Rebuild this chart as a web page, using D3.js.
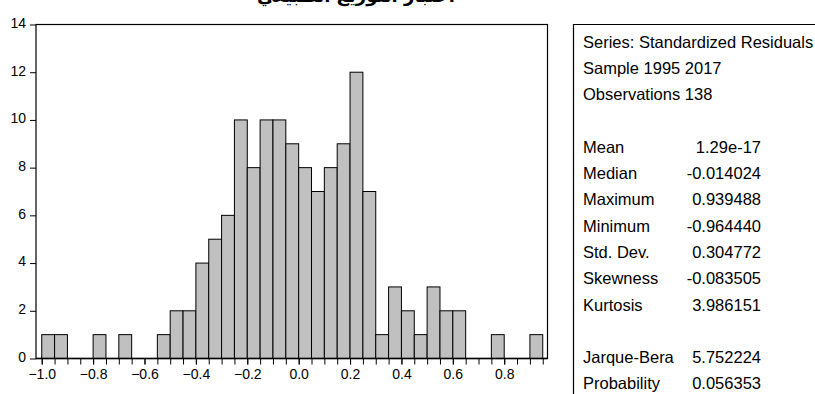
<!DOCTYPE html>
<html>
<head>
<meta charset="utf-8">
<script src="https://cdn.jsdelivr.net/npm/d3@7"></script>
<style>
  body { margin: 0; background: #fff; }
  svg { display: block; }
</style>
</head>
<body>
<div class="hist"></div>
<script>
// bins (lower edge, width 0.05) and their counts
const binStart = [-1.00, -0.95, -0.90, -0.85, -0.80, -0.75, -0.70, -0.65, -0.60, -0.55,
                  -0.50, -0.45, -0.40, -0.35, -0.30, -0.25, -0.20, -0.15, -0.10, -0.05,
                   0.00,  0.05,  0.10,  0.15,  0.20,  0.25,  0.30,  0.35,  0.40,  0.45,
                   0.50,  0.55,  0.60,  0.65,  0.70,  0.75,  0.80,  0.85,  0.90];
const counts   = [1, 1, 0, 0, 1, 0, 1, 0, 0, 1,
                  2, 2, 4, 5, 6, 10, 8, 10, 10, 9,
                  8, 7, 8, 9, 12, 7, 1, 3, 2, 1,
                  3, 2, 2, 0, 0, 1, 0, 0, 1];
const binWidth = 0.05;

const xTicks = [-1.0, -0.8, -0.6, -0.4, -0.2, 0.0, 0.2, 0.4, 0.6, 0.8];
const yTicks = [0, 2, 4, 6, 8, 10, 12, 14];

const headerLines = ["Series: Standardized Residuals", "Sample 1995 2017", "Observations 138"];
const statNames  = ["Mean", "Median", "Maximum", "Minimum", "Std. Dev.", "Skewness", "Kurtosis", "", "Jarque-Bera", "Probability"];
const statValues = ["1.29e-17", "-0.014024", "0.939488", "-0.964440", "0.304772", "-0.083505", "3.986151", "", "5.752224", "0.056353"];

const title = "اختبار التوزيع الطبيعي";

let W = 815, H = 394;
let svg = d3.select(".hist").append("svg")
    .attr("width", W)
    .attr("height", H)
    .style("font-family", "Liberation Sans, Arial, sans-serif");

// plot frame
let pLeft = 36, pRight = 547.5, pTop = 24.5, pBottom = 358.5;

let x = d3.scaleLinear().domain([-1.0223, 0.9685]).range([pLeft, pRight]);
let y = d3.scaleLinear().domain([0, 14]).range([pBottom, pTop]);

// title (cut off at the top edge, as in the source picture)
svg.append("text")
    .attr("x", 356)
    .attr("y", 2)
    .attr("text-anchor", "middle")
    .attr("font-family", "DejaVu Sans")
    .attr("font-size", 18)
    .attr("font-weight", "bold")
    .attr("direction", "rtl")
    .text(title);

// bars
let bars = binStart.map((b, i) => ({x0: b, x1: b + binWidth, n: counts[i]})).filter(d => d.n > 0);
svg.append("g").selectAll("rect")
    .data(bars)
    .enter()
    .append("rect")
    .attr("x", d => x(d.x0))
    .attr("width", d => x(d.x1) - x(d.x0))
    .attr("y", d => y(d.n))
    .attr("height", d => y(0) - y(d.n))
    .attr("fill", "#c0c0c0")
    .attr("stroke", "#000")
    .attr("stroke-width", 1);

// frame
svg.append("rect")
    .attr("x", pLeft).attr("y", pTop)
    .attr("width", pRight - pLeft).attr("height", pBottom - pTop)
    .attr("fill", "none")
    .attr("stroke", "#000")
    .attr("stroke-width", 1.2);

// y axis
let yAxis = d3.axisLeft(y).tickValues(yTicks).tickSize(6).tickPadding(4).tickFormat(d3.format("d"));
let gy = svg.append("g").attr("transform", "translate(" + pLeft + ",0)").call(yAxis);
gy.select(".domain").remove();
gy.selectAll("text").attr("font-size", 14).attr("font-family", "Liberation Sans, Arial, sans-serif").attr("dy", "0.2em");

// x axis: small ticks every 0.05, labels every 0.2
let minor = binStart.concat([0.95]);
let xMinor = d3.axisBottom(x).tickValues(minor).tickSize(6).tickFormat("");
let gxm = svg.append("g").attr("transform", "translate(0," + pBottom + ")").call(xMinor);
gxm.select(".domain").remove();

let xAxis = d3.axisBottom(x).tickValues(xTicks).tickSize(6).tickPadding(5).tickFormat(d3.format(".1f"));
let gx = svg.append("g").attr("transform", "translate(0," + pBottom + ")").call(xAxis);
gx.select(".domain").remove();
gx.selectAll("text").attr("font-size", 14).attr("font-family", "Liberation Sans, Arial, sans-serif");

svg.append("line")
    .attr("x1", pLeft).attr("x2", pRight)
    .attr("y1", pBottom).attr("y2", pBottom)
    .attr("stroke", "#000").attr("stroke-width", 1.6);

// statistics box
let boxX = 573.5;
svg.append("path")
    .attr("d", "M" + boxX + "," + (H + 2) + "V" + pTop + "H" + (W + 2))
    .attr("fill", "none")
    .attr("stroke", "#000")
    .attr("stroke-width", 1.2);

let lineY = i => 47.5 + i * 26.3;

svg.append("g").selectAll("text")
    .data(headerLines)
    .enter()
    .append("text")
    .attr("x", 583)
    .attr("y", (d, i) => lineY(i))
    .attr("font-size", 16.5)
    .text(d => d);

svg.append("g").selectAll("text")
    .data(statNames)
    .enter()
    .append("text")
    .attr("x", 583)
    .attr("y", (d, i) => lineY(i + 4))
    .attr("font-size", 16.5)
    .text(d => d);

svg.append("g").selectAll("text")
    .data(statValues)
    .enter()
    .append("text")
    .attr("x", 761)
    .attr("y", (d, i) => lineY(i + 4))
    .attr("text-anchor", "end")
    .attr("font-size", 16.5)
    .text(d => d);
</script>
</body>
</html>
